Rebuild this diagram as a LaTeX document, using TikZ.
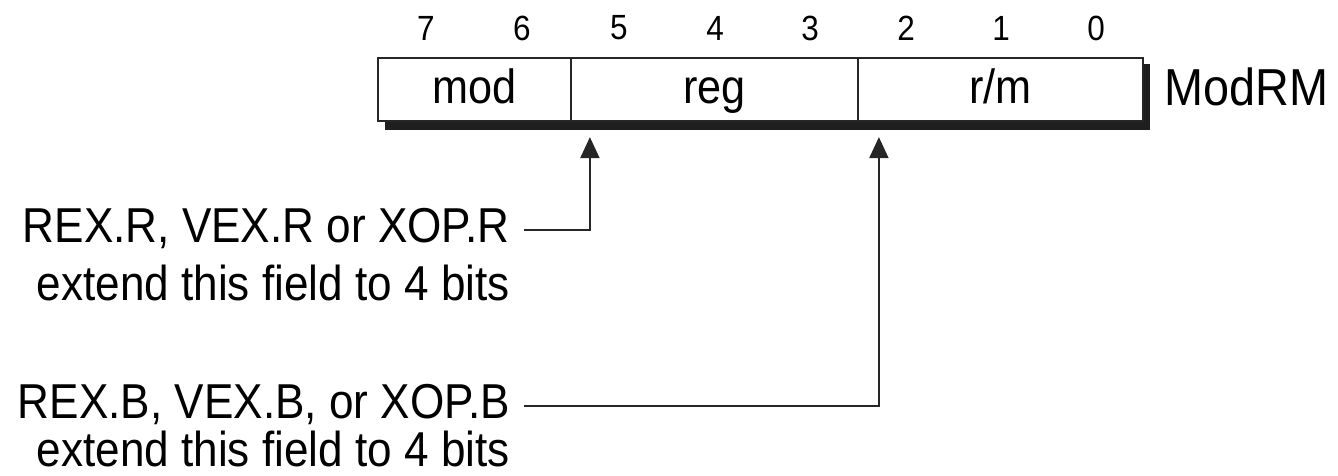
\documentclass[tikz,border=0pt]{standalone}
\usepackage{fontspec}
\setmainfont{Liberation Sans}
\newfontfamily\narrowfont{Liberation Sans}[FakeStretch=0.9]
\usetikzlibrary{arrows.meta}
\begin{document}
\begin{tikzpicture}[x=1pt,y=-1pt,
  field/.style={draw=black!85, line width=2.2pt, fill=white, minimum height=63pt, inner sep=0pt,
    text height=36pt, text depth=8pt, font=\narrowfont\fontsize{48}{54}\selectfont},
  bitnum/.style={font=\narrowfont\fontsize{35}{40}\selectfont, inner sep=0pt, text=black},
  lbl/.style={font=\narrowfont\fontsize{49}{56}\selectfont, inner sep=0pt, text=black},
  conn/.style={line width=2pt, draw=black!85, -{Triangle[width=19pt,length=21pt]}}]
\useasboundingbox (0,0) rectangle (1338,476);
% shadow
\fill[black!88] (385,64) rectangle (1150,130);
% fields
\node[field, minimum width=193pt] (mod) at (474.5,89.5) {mod};
\node[field, minimum width=287pt] (reg) at (714.5,89.5) {reg};
\node[field, minimum width=285pt] (rm) at (1000.5,89.5) {r/m};
% bit numbers
\node[bitnum] (b7) at (426,28) {7};
\node[bitnum] (b6) at (522,28) {6};
\node[bitnum] (b5) at (619,28) {5};
\node[bitnum] (b4) at (715,28) {4};
\node[bitnum] (b3) at (810,28) {3};
\node[bitnum] (b2) at (906,28) {2};
\node[bitnum] (b1) at (1001,28) {1};
\node[bitnum] (b0) at (1096,28) {0};
% ModRM label
\node[lbl, font=\narrowfont\fontsize{52}{58}\selectfont, anchor=base west] (name) at (1164,106) {ModRM};
% left labels
\node[lbl, anchor=base east] (r1) at (510,242) {REX.R, VEX.R or XOP.R};
\node[lbl, anchor=base east] (r2) at (510,300) {extend this field to 4 bits};
\node[lbl, anchor=base east] (b1l) at (510,418) {REX.B, VEX.B, or XOP.B};
\node[lbl, anchor=base east] (b2l) at (510,466) {extend this field to 4 bits};
% connectors
\coordinate (rtip) at ([xshift=20pt,yshift=-15pt]reg.south west);
\coordinate (btip) at ([xshift=22pt,yshift=-15pt]rm.south west);
\draw[conn] ([xshift=14pt,yshift=-2pt]r1.east) -| (rtip);
\draw[conn] ([xshift=14pt,yshift=-2pt]b1l.east) -| (btip);
\end{tikzpicture}
\end{document}
